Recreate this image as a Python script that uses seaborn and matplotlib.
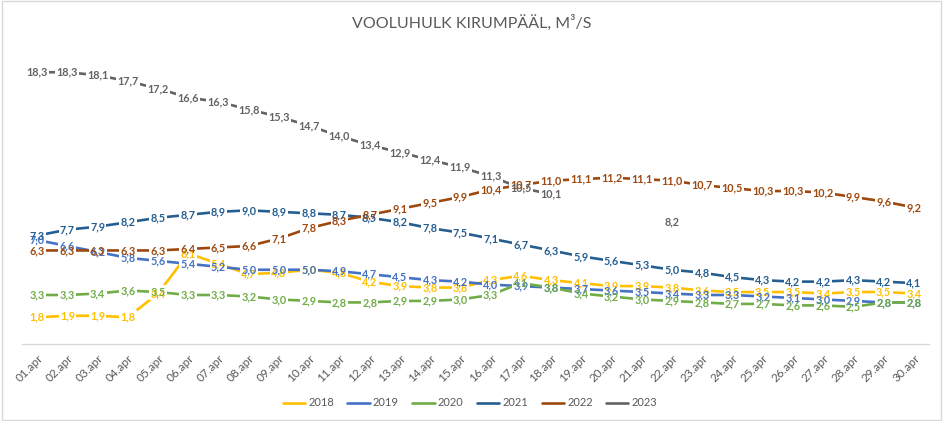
import numpy as np
import pandas as pd
import matplotlib
matplotlib.use("Agg")
import matplotlib.pyplot as plt
import seaborn as sns
from matplotlib.patches import Rectangle

days = [f"{d:02d}.apr" for d in range(1, 31)]
years = ["2018", "2019", "2020", "2021", "2022", "2023"]

v2018 = [1.8, 1.9, 1.9, 1.8, 3.4, 6.1, 5.4, 4.7, 4.8, 5.0, 4.8, 4.2, 3.9, 3.8, 3.8,
         4.3, 4.6, 4.3, 4.1, 3.9, 3.9, 3.8, 3.6, 3.5, 3.5, 3.5, 3.4, 3.5, 3.5, 3.4]
v2019 = [7.0, 6.6, 6.2, 5.8, 5.6, 5.4, 5.2, 5.0, 5.0, 5.0, 4.9, 4.7, 4.5, 4.3, 4.2,
         4.0, 3.9, 3.8, 3.7, 3.6, 3.5, 3.4, 3.3, 3.3, 3.2, 3.1, 3.0, 2.9, 2.8, 2.8]
v2020 = [3.3, 3.3, 3.4, 3.6, 3.5, 3.3, 3.3, 3.2, 3.0, 2.9, 2.8, 2.8, 2.9, 2.9, 3.0,
         3.3, 4.1, 3.8, 3.4, 3.2, 3.0, 2.9, 2.8, 2.7, 2.7, 2.6, 2.6, 2.5, 2.8, 2.8]
v2021 = [7.3, 7.7, 7.9, 8.2, 8.5, 8.7, 8.9, 9.0, 8.9, 8.8, 8.7, 8.5, 8.2, 7.8, 7.5,
         7.1, 6.7, 6.3, 5.9, 5.6, 5.3, 5.0, 4.8, 4.5, 4.3, 4.2, 4.2, 4.3, 4.2, 4.1]
v2022 = [6.3, 6.3, 6.3, 6.3, 6.3, 6.4, 6.5, 6.6, 7.1, 7.8, 8.3, 8.7, 9.1, 9.5, 9.9,
         10.4, 10.7, 11.0, 11.1, 11.2, 11.1, 11.0, 10.7, 10.5, 10.3, 10.3, 10.2, 9.9, 9.6, 9.2]
nan = np.nan
v2023 = [18.3, 18.3, 18.1, 17.7, 17.2, 16.6, 16.3, 15.8, 15.3, 14.7, 14.0, 13.4, 12.9, 12.4, 11.9,
         11.3, 10.5, 10.1, nan, nan, nan, 8.2, nan, nan, nan, nan, nan, nan, nan, nan]

series = {"2018": v2018, "2019": v2019, "2020": v2020,
          "2021": v2021, "2022": v2022, "2023": v2023}
colors = {"2018": "#FFC000", "2019": "#4472C4", "2020": "#70AD47",
          "2021": "#255E91", "2022": "#9E480E", "2023": "#636363"}

rows = []
for y in years:
    seg = 0
    prev_nan = False
    for i, v in enumerate(series[y]):
        if np.isnan(v):
            prev_nan = True
            continue
        if prev_nan:
            seg += 1
            prev_nan = False
        rows.append({"day": i, "label": days[i], "value": v, "year": y, "seg": f"{y}_{seg}"})
df = pd.DataFrame(rows)

sns.set_theme(style="white")
plt.rcParams["font.family"] = ["Lato", "DejaVu Sans"]

fig = plt.figure(figsize=(9.43, 4.21), dpi=100)
ax = fig.add_axes([22 / 943, 1 - 344 / 421, (929 - 22) / 943, (344 - 47) / 421])

sns.lineplot(data=df, x="day", y="value", hue="year", units="seg", estimator=None,
             sort=False, palette=colors, hue_order=years, linewidth=1.9, ax=ax, zorder=2)

# data labels: white backgrounds first, then text on top
for k, y in enumerate(years):
    for i, v in enumerate(series[y]):
        if np.isnan(v):
            continue
        s = f"{v:.1f}".replace(".", ",")
        ax.text(i, v, s, ha="center", va="center", fontsize=7.8, color="none",
                fontweight="bold", zorder=3,
                bbox=dict(boxstyle="square,pad=0.12", fc="white", ec="none"))
for k, y in enumerate(years):
    for i, v in enumerate(series[y]):
        if np.isnan(v):
            continue
        s = f"{v:.1f}".replace(".", ",")
        ax.text(i, v, s, ha="center", va="center", fontsize=7.8, color=colors[y],
                fontweight="bold", zorder=4 + k)

ax.set_xlim(-0.5, 29.5)
ax.set_ylim(0, 20)
ax.set_xlabel("")
ax.set_ylabel("")
ax.set_yticks([])
ax.set_xticks(np.arange(-0.5, 30, 1))
ax.set_xticklabels([])
ax.set_xticks(np.arange(30), minor=True)
ax.set_xticklabels(days, minor=True, rotation=45, ha="right", rotation_mode="anchor",
                   fontsize=8.5, color="#595959")
ax.tick_params(axis="x", which="major", length=5, width=0.8, color="#D9D9D9", direction="out")
ax.tick_params(axis="x", which="minor", length=0, pad=6)
for sp in ["top", "right", "left"]:
    ax.spines[sp].set_visible(False)
ax.spines["bottom"].set_color("#D9D9D9")
ax.spines["bottom"].set_linewidth(1.0)

fig.text(0.5, 1 - 23 / 421, "VOOLUHULK KIRUMPÄÄL, M³/S", ha="center", va="center",
         fontsize=11.5, color="#595959")

sns.move_legend(ax, "center", bbox_to_anchor=(470 / 943, 1 - 403 / 421),
                bbox_transform=fig.transFigure, ncol=6, frameon=False, title=None,
                fontsize=8, handlelength=2.0, columnspacing=1.2, handletextpad=0.3)
for t in ax.get_legend().get_texts():
    t.set_color("#595959")

fig.patches.append(Rectangle((0.002, 0.003), 0.996, 0.994, transform=fig.transFigure,
                             fill=False, ec="#D9D9D9", lw=1.0))

fig.savefig("out.png", dpi=100, facecolor="white")
